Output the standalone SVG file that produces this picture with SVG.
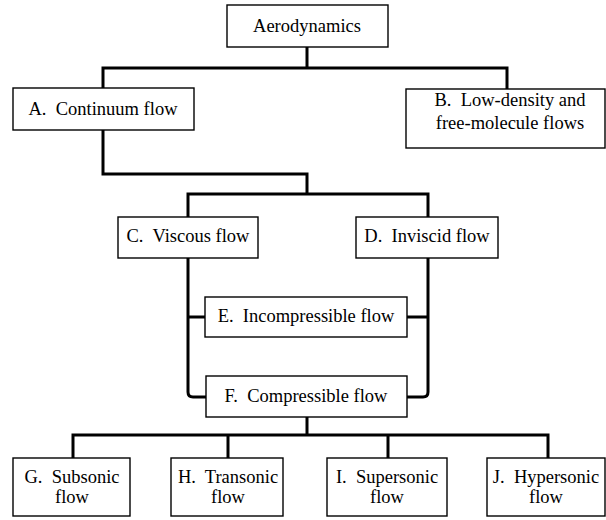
<svg xmlns="http://www.w3.org/2000/svg" width="606" height="520" viewBox="0 0 606 520">
<style>
.box{fill:#fff;stroke:#000;stroke-width:1.4}
.t{font-family:"Liberation Serif","Times New Roman",serif;font-size:18.5px;fill:#000;text-anchor:middle}
.c{fill:none;stroke:#000;stroke-width:3;stroke-linejoin:miter}
</style>
<rect width="606" height="520" fill="#fff"/>
<g id="connectors">
<path class="c" d="M307 47V68M103 88V68H507V89"/>
<path class="c" d="M103 130V174H307V194M188 217V194H428V217"/>
<path class="c" d="M188 258V392Q188 397 193 397H206M428 258V392Q428 397 423 397H407"/>
<path class="c" d="M188 317H205M407 317H428"/>
<path class="c" d="M307 417V435M73 458V435H548V458M228 435V458M388 435V458"/>
</g>
<g id="aerodynamics"><rect class="box" x="227" y="5" width="161" height="42"/><text class="t" x="307" y="32">Aerodynamics</text></g>
<g id="continuum"><rect class="box" x="13" y="88" width="181" height="42"/><text class="t" x="103" y="115" xml:space="preserve">A.&#160; Continuum flow</text></g>
<g id="lowdensity"><rect class="box" x="406" y="89" width="199" height="59"/><text class="t" x="510" y="106" xml:space="preserve">B.&#160; Low-density and</text><text class="t" x="510" y="129">free-molecule flows</text></g>
<g id="viscous"><rect class="box" x="118" y="217" width="140" height="41"/><text class="t" x="188" y="242" xml:space="preserve">C.&#160; Viscous flow</text></g>
<g id="inviscid"><rect class="box" x="356" y="217" width="142" height="41"/><text class="t" x="427" y="242" xml:space="preserve">D.&#160; Inviscid flow</text></g>
<g id="incompressible"><rect class="box" x="205" y="297" width="202" height="40"/><text class="t" x="306" y="322" xml:space="preserve">E.&#160; Incompressible flow</text></g>
<g id="compressible"><rect class="box" x="206" y="376" width="201" height="41"/><text class="t" x="306" y="402" xml:space="preserve">F.&#160; Compressible flow</text></g>
<g id="subsonic"><rect class="box" x="13" y="458" width="117" height="58"/><text class="t" x="72" y="483" xml:space="preserve">G.&#160; Subsonic</text><text class="t" x="72" y="503">flow</text></g>
<g id="transonic"><rect class="box" x="171" y="458" width="112" height="58"/><text class="t" x="228" y="483" xml:space="preserve">H.&#160; Transonic</text><text class="t" x="228" y="503">flow</text></g>
<g id="supersonic"><rect class="box" x="327" y="458" width="120" height="58"/><text class="t" x="387" y="483" xml:space="preserve">I.&#160; Supersonic</text><text class="t" x="387" y="503">flow</text></g>
<g id="hypersonic"><rect class="box" x="487" y="458" width="118" height="58"/><text class="t" x="546" y="483" xml:space="preserve">J.&#160; Hypersonic</text><text class="t" x="546" y="503">flow</text></g>
</svg>
